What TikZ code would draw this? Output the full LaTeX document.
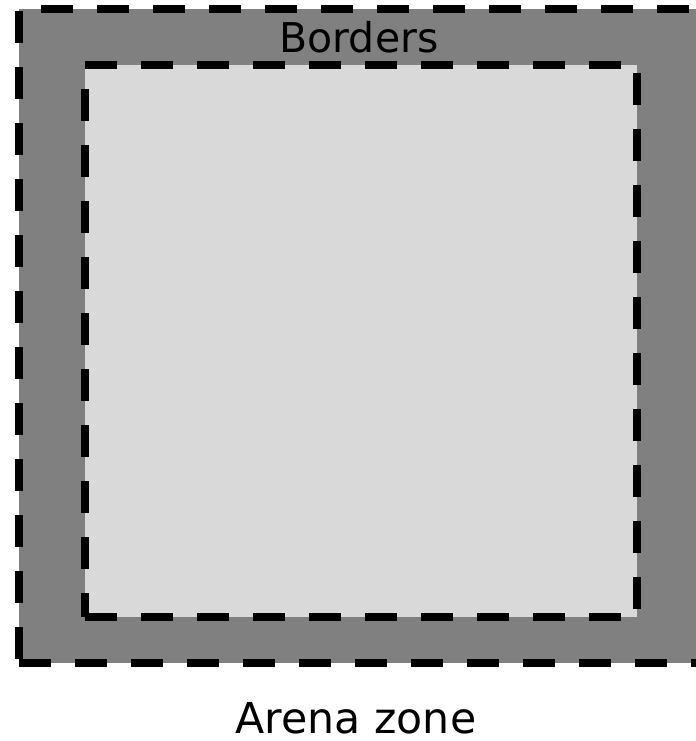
\documentclass[tikz,border=0pt]{standalone}
\usepackage{fontspec}
\setmainfont{DejaVu Sans}
\usepackage{tikz}
\definecolor{bordergray}{HTML}{808080}
\definecolor{arenagray}{HTML}{D9D9D9}
\tikzset{zoneline/.style={line width=6pt,dash pattern=on 24pt off 18pt}}

\begin{document}
\begin{tikzpicture}[x=0.75pt,y=-0.75pt]
    \useasboundingbox (0,0) rectangle (695,741);
    % outer border zone
    \fill[bordergray] (19,9) rectangle (708.5,663);
    \draw[zoneline] (19,663) -- (708.5,663) -- (708.5,9);
    \draw[zoneline,dash phase=25.5pt] (19,9) -- (708.5,9);
    \draw[zoneline,dash phase=40.5pt] (19,9) -- (19,663);
    % inner arena
    \fill[arenagray] (85,65) rectangle (637,617);
    \draw[zoneline] (85,65) -- (637,65) -- (637,617) -- (85,617);
    \draw[zoneline,dash phase=24pt] (85,65) -- (85,617);
    \node[font=\fontsize{30.75}{36}\selectfont,anchor=base,inner sep=0pt] (borders) at (359,53) {Borders};
    \node[font=\fontsize{32}{38}\selectfont,anchor=base,inner sep=0pt] (arena) at (356,733) {Arena zone};
  \end{tikzpicture}
\end{document}
